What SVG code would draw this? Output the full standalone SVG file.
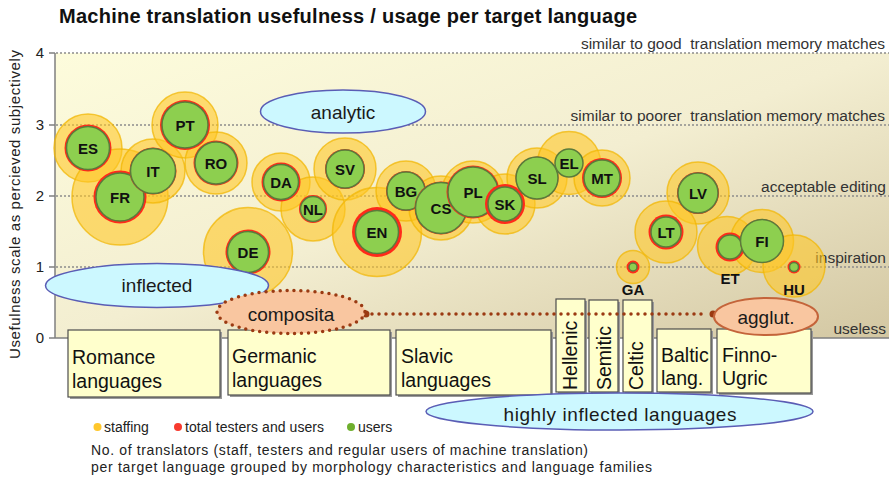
<svg xmlns="http://www.w3.org/2000/svg" width="889" height="478" viewBox="0 0 889 478">
  <defs>
    <linearGradient id="plotBg" x1="0" y1="0" x2="1" y2="1">
      <stop offset="0" stop-color="#FDFCDC"/>
      <stop offset="0.5" stop-color="#F3EED1"/>
      <stop offset="1" stop-color="#D3C7A2"/>
    </linearGradient>
  </defs>
  <style>
    text { font-family: "Liberation Sans", Arial, sans-serif; }
    .grid { stroke: #8c8c8c; stroke-width: 1.6; stroke-dasharray: 2 2; fill: none; }
    .axis { stroke: #7f7f7f; stroke-width: 1.5; fill: none; }
    .halo { fill: #FFC623; fill-opacity: 0.58; stroke: #F2B705; stroke-opacity: 0.75; stroke-width: 1.5; }
    .rim { fill: #FF2A1A; }
    .core { fill: #8DCF4F; stroke: #5B7B3B; stroke-width: 1.5; }
    .code { font-size: 15px; font-weight: bold; text-anchor: middle; fill: #111; }
    .level { font-size: 15.5px; fill: #333; text-anchor: end; white-space: pre; }
    .tick { font-size: 15px; fill: #222; text-anchor: end; }
    .oval { fill: #CCF8FF; stroke: #5A5DB5; stroke-width: 1.5; }
    .ovalText { font-size: 19px; text-anchor: middle; fill: #1a1a1a; }
    .family { fill: #FFFFCC; stroke: #4d4d4d; stroke-width: 1.2; }
    .shadow { fill: #9a9a9a; }
    .famText { font-size: 19.5px; fill: #111; }
    .legend { font-size: 14px; fill: #222; }
    .caption { font-size: 14px; fill: #222; }
    .morph { fill: #F9C6A0; }
    .dotted { stroke: #9B3A12; stroke-width: 3.5; stroke-dasharray: 0 7; stroke-linecap: round; fill: none; }
  </style>

  <!-- title -->
  <text x="59" y="23" font-size="20" font-weight="bold" fill="#111" textLength="578" lengthAdjust="spacing">Machine translation usefulness / usage per target language</text>

  <!-- plot area -->
  <rect x="55" y="53" width="834" height="285" fill="url(#plotBg)"/>
  <line class="axis" x1="55" y1="338" x2="889" y2="338"/>
  <line class="axis" x1="55" y1="53" x2="55" y2="338"/>
  <g id="ticks" class="axis">
    <line x1="49" y1="53" x2="55" y2="53"/>
    <line x1="49" y1="125" x2="55" y2="125"/>
    <line x1="49" y1="196" x2="55" y2="196"/>
    <line x1="49" y1="267" x2="55" y2="267"/>
    <line x1="49" y1="338" x2="55" y2="338"/>
  </g>
  <g id="gridlines">
    <line class="grid" x1="56" y1="53" x2="889" y2="53"/>
    <line class="grid" x1="56" y1="125" x2="889" y2="125"/>
    <line class="grid" x1="56" y1="196" x2="889" y2="196"/>
    <line class="grid" x1="56" y1="267" x2="889" y2="267"/>
  </g>
  <g id="tick-labels">
    <text class="tick" x="44" y="58">4</text>
    <text class="tick" x="44" y="130">3</text>
    <text class="tick" x="44" y="201">2</text>
    <text class="tick" x="44" y="272">1</text>
    <text class="tick" x="44" y="343">0</text>
  </g>
  <text transform="translate(20,359) rotate(-90)" font-size="15" fill="#222" textLength="309" lengthAdjust="spacing">Usefulness scale as percieved subjectively</text>

  <g id="level-labels">
    <text class="level" x="885" y="49" xml:space="preserve">similar to good  translation memory matches</text>
    <text class="level" x="885" y="121" xml:space="preserve">similar to poorer  translation memory matches</text>
    <text class="level" x="886" y="192">acceptable editing</text>
    <text class="level" x="886" y="263">inspiration</text>
    <text class="level" x="886" y="334">useless</text>
  </g>

  <!-- staffing halos (drawn beneath all language bubbles) -->
  <g id="staffing-halos">
    <circle class="halo" cx="88" cy="148" r="34"/>
    <circle class="halo" cx="120" cy="197" r="48"/>
    <circle class="halo" cx="153" cy="171" r="32"/>
    <circle class="halo" cx="185" cy="125" r="33"/>
    <circle class="halo" cx="216" cy="163" r="31"/>
    <circle class="halo" cx="281" cy="182" r="29"/>
    <circle class="halo" cx="313" cy="209" r="32"/>
    <circle class="halo" cx="345" cy="169" r="31"/>
    <circle class="halo" cx="248" cy="252" r="44.5"/>
    <circle class="halo" cx="377" cy="232" r="44.5"/>
    <circle class="halo" cx="406" cy="191" r="30"/>
    <circle class="halo" cx="441" cy="208" r="32"/>
    <circle class="halo" cx="473" cy="192" r="31"/>
    <circle class="halo" cx="505" cy="204" r="30"/>
    <circle class="halo" cx="537" cy="178" r="30"/>
    <circle class="halo" cx="569" cy="163" r="31.5"/>
    <circle class="halo" cx="602" cy="178" r="28"/>
    <circle class="halo" cx="698" cy="193" r="31"/>
    <circle class="halo" cx="666" cy="232" r="31"/>
    <circle class="halo" cx="633" cy="267" r="16.5"/>
    <circle class="halo" cx="727" cy="246" r="29.5"/>
    <circle class="halo" cx="762" cy="241" r="31.5"/>
    <circle class="halo" cx="794" cy="266" r="31"/>
  </g>

  <!-- language bubbles: red = testers and users, green = users -->
  <g id="node-ES"><circle class="rim" cx="88" cy="148" r="23.5"/><circle class="core" cx="88" cy="148" r="21.5"/><text class="code" x="88" y="153.5">ES</text></g>
  <g id="node-FR"><circle class="rim" cx="120" cy="197" r="26.5"/><circle class="core" cx="120" cy="197" r="24"/><text class="code" x="120" y="202.5">FR</text></g>
  <g id="node-IT"><circle class="rim" cx="153" cy="171" r="23.5"/><circle class="core" cx="153" cy="171" r="22.5"/><text class="code" x="153" y="176.5">IT</text></g>
  <g id="node-PT"><circle class="rim" cx="185" cy="125" r="25"/><circle class="core" cx="185" cy="125" r="23"/><text class="code" x="185" y="130.5">PT</text></g>
  <g id="node-RO"><circle class="rim" cx="216" cy="163" r="22.5"/><circle class="core" cx="216" cy="163" r="21"/><text class="code" x="216" y="168.5">RO</text></g>
  <g id="node-DA"><circle class="rim" cx="281" cy="182" r="19.5"/><circle class="core" cx="281" cy="182" r="17.5"/><text class="code" x="281" y="187.5">DA</text></g>
  <g id="node-NL"><circle class="rim" cx="313" cy="209" r="14"/><circle class="core" cx="313" cy="209" r="12.5"/><text class="code" x="313" y="214.5">NL</text></g>
  <g id="node-SV"><circle class="rim" cx="345" cy="169" r="20"/><circle class="core" cx="345" cy="169" r="19"/><text class="code" x="345" y="174.5">SV</text></g>
  <g id="node-DE"><circle class="rim" cx="248" cy="252" r="22.5"/><circle class="core" cx="248" cy="252" r="20.5"/><text class="code" x="248" y="257.5">DE</text></g>
  <g id="node-EN"><circle class="rim" cx="377" cy="232" r="25"/><circle class="core" cx="377" cy="232" r="21.5"/><text class="code" x="377" y="237.5">EN</text></g>
  <g id="node-BG"><circle class="rim" cx="406" cy="191" r="20"/><circle class="core" cx="406" cy="191" r="19"/><text class="code" x="406" y="196.5">BG</text></g>
  <g id="node-CS"><circle class="rim" cx="441" cy="208" r="26.5"/><circle class="core" cx="441" cy="208" r="25.5"/><text class="code" x="441" y="213.5">CS</text></g>
  <g id="node-PL"><circle class="rim" cx="473" cy="192" r="26.5"/><circle class="core" cx="473" cy="192" r="25"/><text class="code" x="473" y="197.5">PL</text></g>
  <g id="node-SK"><circle class="rim" cx="505" cy="204" r="20"/><circle class="core" cx="505" cy="204" r="17"/><text class="code" x="505" y="209.5">SK</text></g>
  <g id="node-SL"><circle class="rim" cx="537" cy="178" r="21.5"/><circle class="core" cx="537" cy="178" r="21"/><text class="code" x="537" y="183.5">SL</text></g>
  <g id="node-EL"><circle class="core" cx="569" cy="163" r="14"/><text class="code" x="569" y="168.5">EL</text></g>
  <g id="node-MT"><circle class="rim" cx="602" cy="178" r="20"/><circle class="core" cx="602" cy="178" r="18"/><text class="code" x="602" y="183.5">MT</text></g>
  <g id="node-LV"><circle class="rim" cx="698" cy="193" r="21"/><circle class="core" cx="698" cy="193" r="20"/><text class="code" x="698" y="198.5">LV</text></g>
  <g id="node-LT"><circle class="rim" cx="666" cy="232" r="17.5"/><circle class="core" cx="666" cy="232" r="15"/><text class="code" x="666" y="237.5">LT</text></g>
  <g id="node-GA"><circle class="rim" cx="633" cy="267" r="6.5"/><circle class="core" cx="633" cy="267" r="4"/><text class="code" x="633" y="295">GA</text></g>
  <g id="node-ET"><circle class="rim" cx="730" cy="247" r="14.5"/><circle class="core" cx="730" cy="247" r="12"/><text class="code" x="730" y="284">ET</text></g>
  <g id="node-FI"><circle class="rim" cx="762" cy="241" r="22"/><circle class="core" cx="762" cy="241" r="21.5"/><text class="code" x="762" y="246.5">FI</text></g>
  <g id="node-HU"><circle class="rim" cx="794" cy="267" r="6.5"/><circle class="core" cx="794" cy="267" r="4.5"/><text class="code" x="794" y="295">HU</text></g>

  <!-- morphology ovals -->
  <g id="node-analytic">
    <ellipse class="oval" cx="343" cy="111.5" rx="82.5" ry="21.5"/>
    <text class="ovalText" x="343" y="118.5">analytic</text>
  </g>
  <g id="node-inflected">
    <ellipse class="oval" cx="157" cy="285.5" rx="111.5" ry="22"/>
    <text class="ovalText" x="157" y="292">inflected</text>
  </g>

  <!-- language family boxes -->
  <g id="family-romance">
    <rect class="shadow" x="70" y="332" width="152" height="67"/>
    <rect class="family" x="68" y="330" width="152" height="67"/>
    <text class="famText" x="72" y="364">Romance</text>
    <text class="famText" x="72" y="388">languages</text>
  </g>
  <g id="family-germanic">
    <rect class="shadow" x="230" y="332" width="162" height="65"/>
    <rect class="family" x="228" y="330" width="162" height="65"/>
    <text class="famText" x="232" y="363">Germanic</text>
    <text class="famText" x="232" y="387">languages</text>
  </g>
  <g id="family-slavic">
    <rect class="shadow" x="398" y="332" width="155" height="65"/>
    <rect class="family" x="396" y="330" width="155" height="65"/>
    <text class="famText" x="401" y="363">Slavic</text>
    <text class="famText" x="401" y="387">languages</text>
  </g>
  <g id="family-hellenic">
    <rect class="shadow" x="558" y="301" width="29" height="93"/>
    <rect class="family" x="556" y="299" width="29" height="93"/>
    <text class="famText" transform="translate(577,390) rotate(-90)">Hellenic</text>
  </g>
  <g id="family-semitic">
    <rect class="shadow" x="591" y="302" width="29" height="92"/>
    <rect class="family" x="589" y="300" width="29" height="92"/>
    <text class="famText" transform="translate(611,390) rotate(-90)">Semitic</text>
  </g>
  <g id="family-celtic">
    <rect class="shadow" x="625" y="302" width="29" height="92"/>
    <rect class="family" x="623" y="300" width="29" height="92"/>
    <text class="famText" transform="translate(643,390) rotate(-90)">Celtic</text>
  </g>
  <g id="family-baltic">
    <rect class="shadow" x="659" y="331" width="54" height="63"/>
    <rect class="family" x="657" y="329" width="54" height="63"/>
    <text class="famText" x="661" y="362">Baltic</text>
    <text class="famText" x="661" y="385">lang.</text>
  </g>
  <g id="family-finno-ugric">
    <rect class="shadow" x="719" y="331" width="94" height="64"/>
    <rect class="family" x="717" y="329" width="94" height="64"/>
    <text class="famText" x="722" y="362">Finno-</text>
    <text class="famText" x="722" y="385">Ugric</text>
  </g>

  <!-- compounding link between composita and agglutinative -->
  <g id="connectors">
    <line class="dotted" x1="372" y1="314" x2="708" y2="314"/>
    <circle cx="366" cy="314" r="3.5" fill="#9B3A12"/>
    <circle cx="713" cy="314" r="3.5" fill="#9B3A12"/>
  </g>

  <g id="node-composita">
    <ellipse class="morph" cx="291" cy="312" rx="74" ry="21.5"/>
    <ellipse class="dotted" cx="291" cy="312" rx="74" ry="21.5"/>
    <text class="ovalText" x="291" y="321">composita</text>
  </g>
  <g id="node-agglut">
    <ellipse class="morph" cx="766" cy="316.5" rx="52" ry="18.5" stroke="#C4643A" stroke-width="2"/>
    <text class="ovalText" x="766" y="323.5">agglut.</text>
  </g>
  <g id="node-highly-inflected">
    <ellipse class="oval" cx="619.5" cy="411.5" rx="193.5" ry="18.5"/>
    <text class="ovalText" x="620" y="420.5" textLength="233" lengthAdjust="spacing">highly inflected languages</text>
  </g>

  <!-- legend -->
  <g id="legend">
    <circle cx="97.5" cy="427" r="4" fill="#FFC72C"/>
    <text class="legend" x="104" y="432">staffing</text>
    <circle cx="178" cy="427" r="4" fill="#F83A2E"/>
    <text class="legend" x="185" y="432" textLength="139" lengthAdjust="spacing">total testers and users</text>
    <circle cx="351" cy="427" r="4" fill="#6FAF2E"/>
    <text class="legend" x="358" y="432">users</text>
  </g>
  <g id="caption">
    <text class="caption" x="91" y="455" textLength="497" lengthAdjust="spacing">No. of translators (staff, testers and regular users of machine translation)</text>
    <text class="caption" x="91" y="472" textLength="561" lengthAdjust="spacing">per target language grouped by morphology characteristics and language families</text>
  </g>
</svg>
